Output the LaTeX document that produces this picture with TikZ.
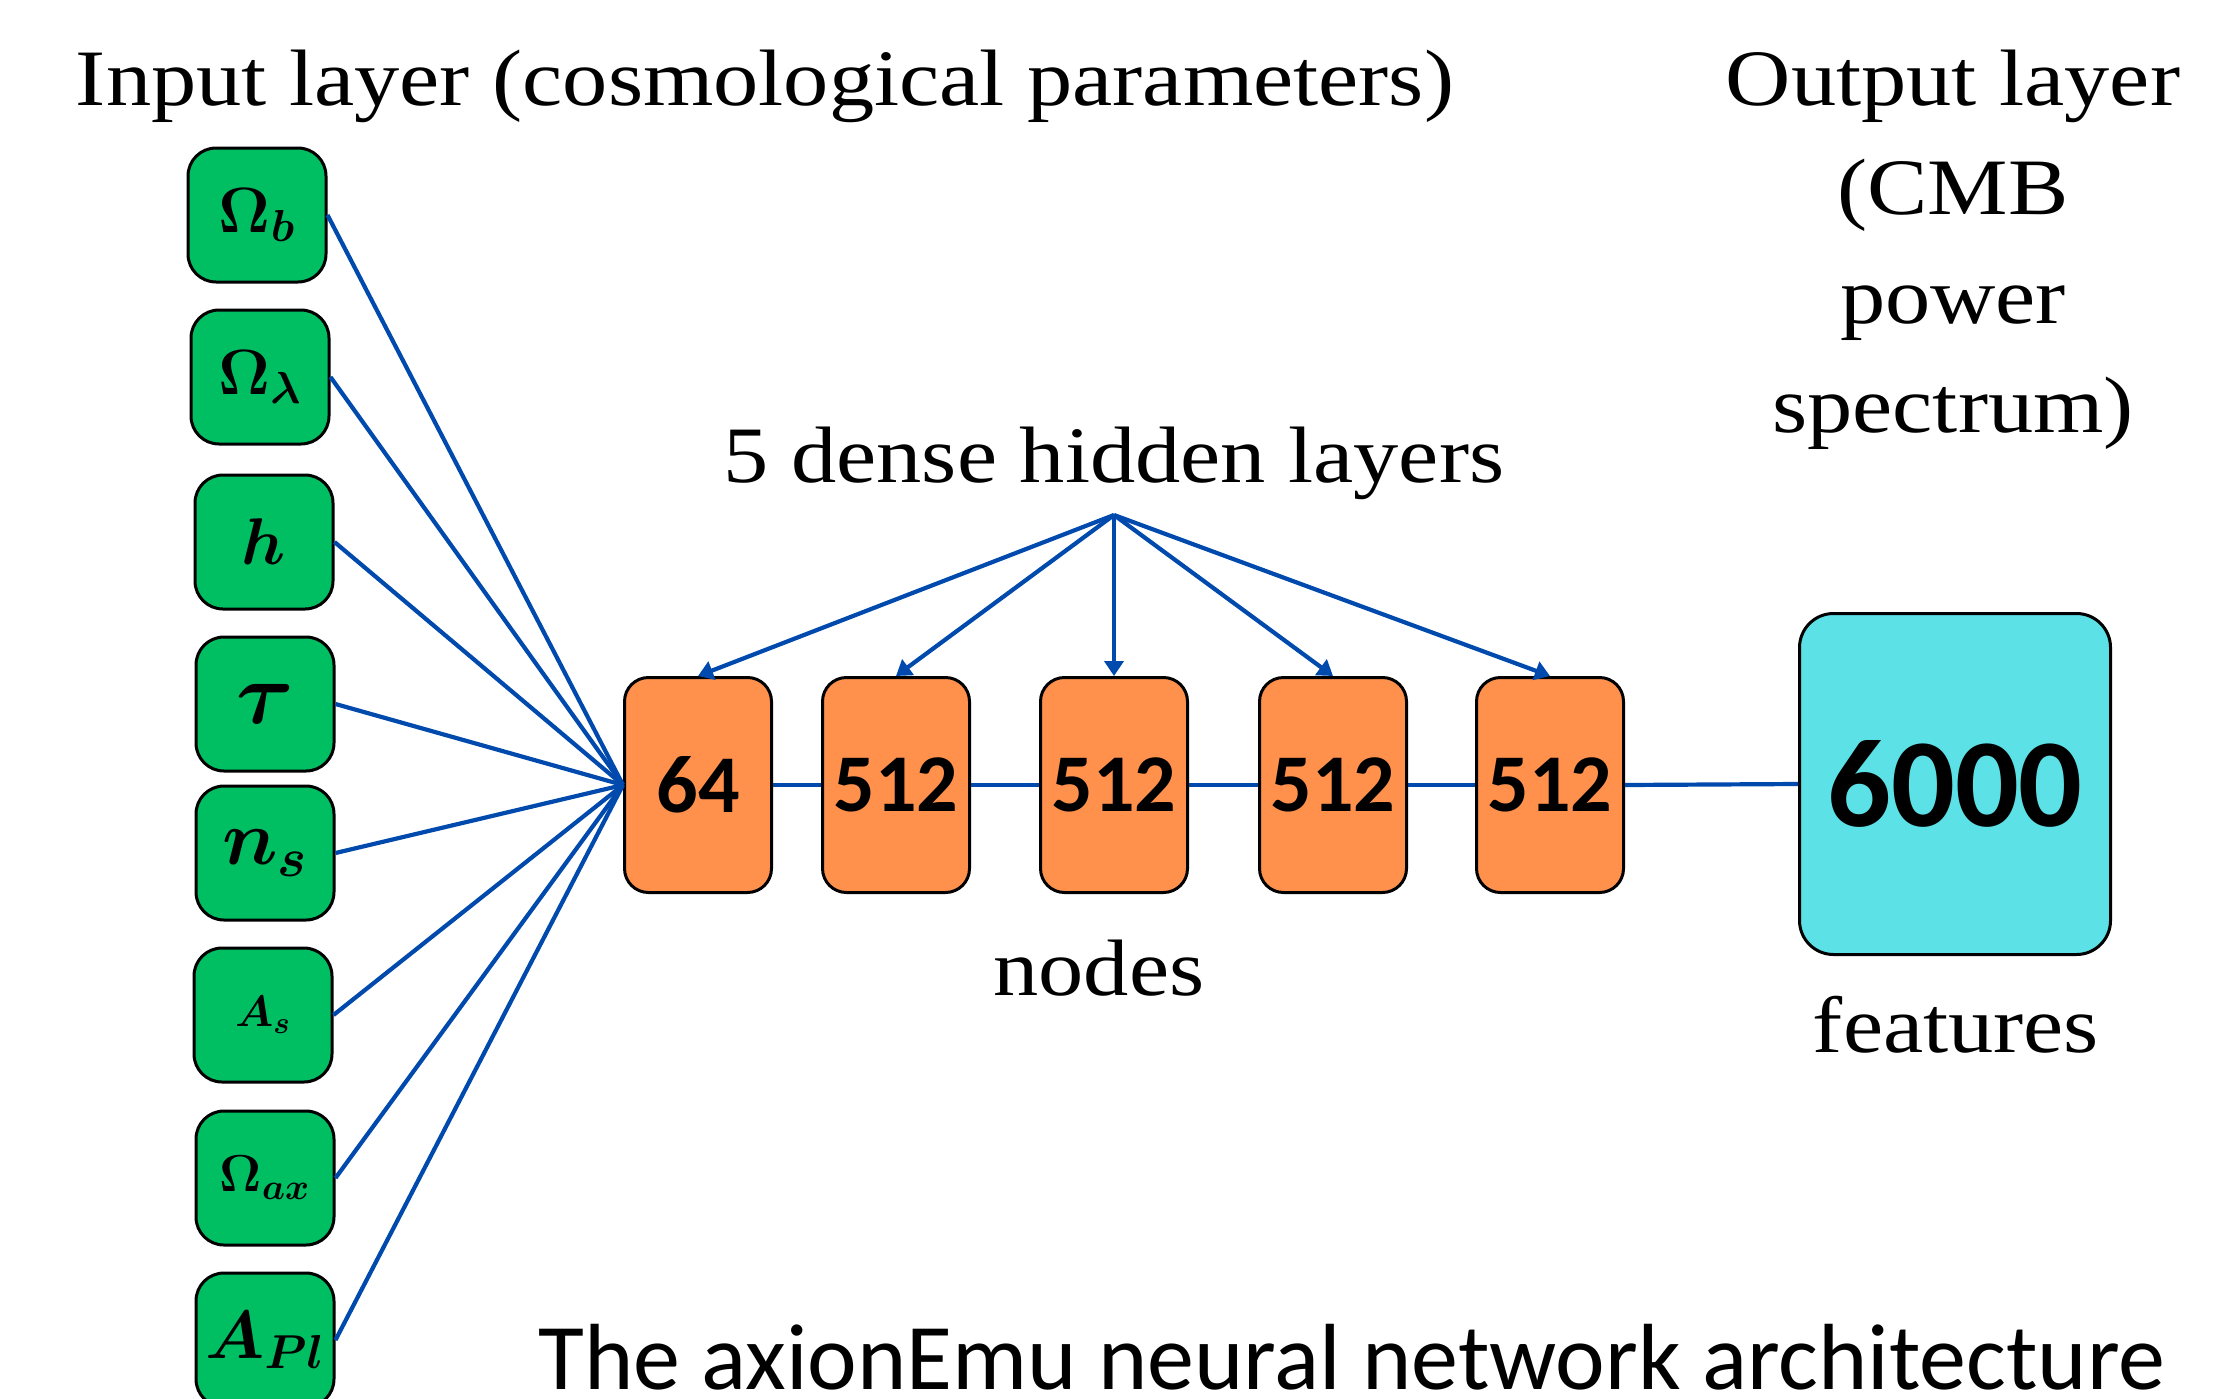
\RequirePackage{fix-cm}
\documentclass[tikz,border=0pt]{standalone}
\usepackage{amsmath}
\usepackage{fontspec}
\usetikzlibrary{arrows.meta}
\newfontfamily\tnr[FakeStretch=1.13]{Liberation Serif}
\newfontfamily\calib{Carlito}
\definecolor{ngreen}{HTML}{00BF63}
\definecolor{norange}{HTML}{FF914D}
\definecolor{ncyan}{HTML}{5CE1E6}
\definecolor{nblue}{HTML}{004AAD}
\tikzset{
  inbox/.style={draw=black, line width=1.5pt, fill=ngreen, rounded corners=14pt,
    minimum width=69pt, minimum height=67pt, inner sep=0pt},
  hidbox/.style={draw=black, line width=1.5pt, fill=norange, rounded corners=12pt,
    minimum width=73.5pt, minimum height=107.5pt, inner sep=0pt,
    font=\calib\bfseries\fontsize{41}{41}\selectfont},
  outbox/.style={draw=black, line width=1.5pt, fill=ncyan, rounded corners=17pt,
    minimum width=155.5pt, minimum height=170.5pt, inner sep=0pt,
    font=\calib\bfseries\fontsize{63}{63}\selectfont},
  link/.style={draw=nblue, line width=2.1pt},
  fanarrow/.style={draw=nblue, line width=2.1pt, -{Triangle[length=7.5pt,width=9.5pt]}},
  ttext/.style={font=\tnr\fontsize{40}{48}\selectfont, inner sep=0pt, anchor=base},
  msize/.style={font=\boldmath\fontsize{#1}{#1}\selectfont}
}
\begin{document}
\begin{tikzpicture}[x=0.5pt,y=-0.5pt]
\useasboundingbox (0,0) rectangle (2226,1398);

% input layer nodes
\node[inbox, msize=32] (ob)  at (257,215)  {$\Omega_b$};
\node[inbox, msize=32] (ol)  at (260,377)  {$\Omega_\lambda$};
\node[inbox, msize=33] (hh)  at (264,542)  {$h$};
\node[inbox, msize=44] (tau) at (265,704)  {$\tau$};
\node[inbox, msize=39] (ns)  at (265,853)  {$n_s$};
\node[inbox, msize=22] (as)  at (263,1015) {$A_s$};
\node[inbox, msize=26] (oax) at (265,1178) {$\Omega_{ax}$};
\node[inbox, msize=34] (apl) at (265,1340) {$A_{Pl}$};

% hidden layers
\node[hidbox] (h1) at (698,785)  {64};
\node[hidbox] (h2) at (896,785)  {512};
\node[hidbox] (h3) at (1114,785) {512};
\node[hidbox] (h4) at (1333,785) {512};
\node[hidbox] (h5) at (1550,785) {512};

% output
\node[outbox] (out) at (1955,784) {6000};

% connections from inputs
\foreach \n in {ob,ol,hh,tau,ns,as,oax,apl}
  \draw[link] (\n.east) -- (h1.west);

% chain
\draw[link] (h1.east) -- (h2.west);
\draw[link] (h2.east) -- (h3.west);
\draw[link] (h3.east) -- (h4.west);
\draw[link] (h4.east) -- (h5.west);
\draw[link] (h5.east) -- (out.west);

% texts
\node[ttext] (tin) at (765,105) {Input layer (cosmological parameters)};
\node[ttext] (to1) at (1953,105) {Output layer};
\node[ttext] (to2) at (1953,214) {(CMB};
\node[ttext] (to3) at (1953,323) {power};
\node[ttext] (to4) at (1953,432) {spectrum)};
\node[ttext] (thid) at (1114,482) {5 dense hidden layers};
\node[ttext] (tnodes) at (1099,995) {nodes};
\node[ttext] (tfeat) at (1956,1052) {features};
\node[font=\calib\fontsize{47}{47}\selectfont, inner sep=0pt, anchor=base] (cap) at (1352,1389) {The axionEmu neural network architecture};

% fan arrows
\coordinate (fan) at (1114,515);
\foreach \n in {h1,h2,h3,h4,h5}
  \draw[fanarrow] (fan) -- (\n.north);
\end{tikzpicture}
\end{document}
